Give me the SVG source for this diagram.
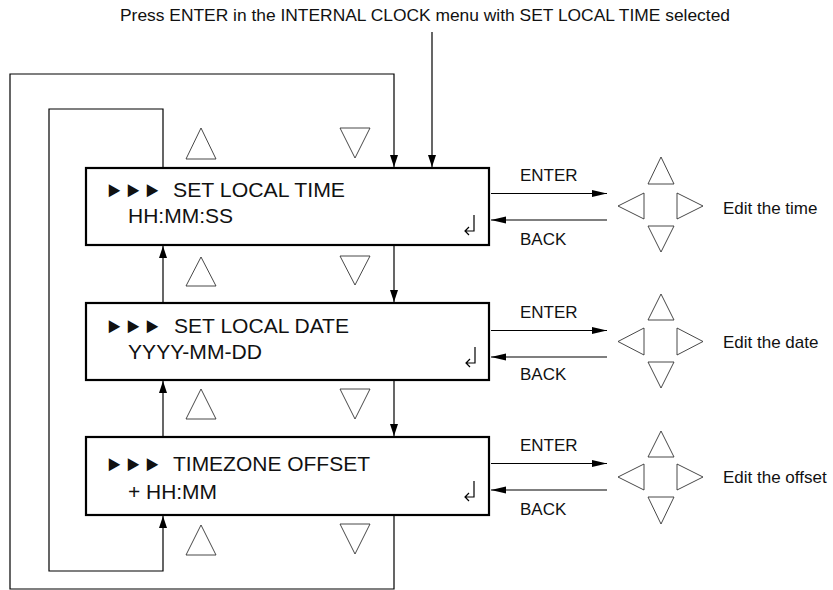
<svg xmlns="http://www.w3.org/2000/svg" width="833" height="590" viewBox="0 0 833 590">
<style>
text{font-family:"Liberation Sans","DejaVu Sans",Arial,sans-serif;fill:#111}
.lbl{font-size:17px}
.box{fill:#fff;stroke:#000;stroke-width:2.2}
.mt{font-size:20px}
.pt{font-size:22px}
.tri{fill:#fff;stroke:#333;stroke-width:0.9}
.ln{fill:none;stroke:#000;stroke-width:1.2}
.ret{fill:none;stroke:#000;stroke-width:1.2}
</style>
<defs>
<marker id="av" markerUnits="userSpaceOnUse" markerWidth="12" markerHeight="10" refX="12" refY="4" orient="auto">
<path d="M0,0 L12,4 L0,8 z" fill="#000"/>
</marker>
<marker id="ah" markerUnits="userSpaceOnUse" markerWidth="16" markerHeight="8" refX="15" refY="3.5" orient="auto">
<path d="M0,0 L15,3.5 L0,7 z" fill="#000"/>
</marker>
</defs>

<text id="title" class="lbl" x="120" y="21" textLength="610" lengthAdjust="spacingAndGlyphs">Press ENTER in the INTERNAL CLOCK menu with SET LOCAL TIME selected</text>

<g id="connectors">
<path class="ln" d="M432,32 V167" marker-end="url(#av)"/>
<path class="ln" d="M394,515 V589 H10 V74 H394 V167" marker-end="url(#av)"/>
<path class="ln" d="M163,168 V109 H49 V571 H163 V516" marker-end="url(#av)"/>
<path class="ln" d="M163,303 V246" marker-end="url(#av)"/>
<path class="ln" d="M394,245 V302" marker-end="url(#av)"/>
<path class="ln" d="M163,437 V381" marker-end="url(#av)"/>
<path class="ln" d="M394,380 V436" marker-end="url(#av)"/>
<path class="ln" d="M491,193.5 H607" marker-end="url(#ah)"/>
<path class="ln" d="M607,220 H491" marker-end="url(#ah)"/>
<path class="ln" d="M491,330.5 H607" marker-end="url(#ah)"/>
<path class="ln" d="M607,357 H491" marker-end="url(#ah)"/>
<path class="ln" d="M491,463.5 H607" marker-end="url(#ah)"/>
<path class="ln" d="M607,490 H491" marker-end="url(#ah)"/>
</g>

<g id="nav-triangles">
<polygon class="tri" points="201,128 216,159 186,159"/>
<polygon class="tri" points="340,128 370,128 355,158"/>
<polygon class="tri" points="201,257 216,286 186,286"/>
<polygon class="tri" points="340,256 370,256 355,285"/>
<polygon class="tri" points="201,389 216,419 186,419"/>
<polygon class="tri" points="340,389 370,389 355,419"/>
<polygon class="tri" points="201,525 216,555 186,555"/>
<polygon class="tri" points="340,524 370,524 355,554"/>
</g>

<g id="node-time">
<rect class="box" x="86" y="168" width="403" height="77"/>
<text class="pt" x="105" y="197" textLength="57" lengthAdjust="spacingAndGlyphs">►►►</text>
<text class="mt" x="173" y="197" textLength="172" lengthAdjust="spacingAndGlyphs">SET LOCAL TIME</text>
<text class="mt" x="128" y="223" textLength="105" lengthAdjust="spacingAndGlyphs">HH:MM:SS</text>
<path class="ret" d="M474,215 V231 H465 M469,227 L465,231 L469,235"/>
</g>

<g id="node-date">
<rect class="box" x="86" y="303" width="403" height="77"/>
<text class="pt" x="105" y="333" textLength="57" lengthAdjust="spacingAndGlyphs">►►►</text>
<text class="mt" x="174" y="333" textLength="175" lengthAdjust="spacingAndGlyphs">SET LOCAL DATE</text>
<text class="mt" x="128" y="359" textLength="134" lengthAdjust="spacingAndGlyphs">YYYY-MM-DD</text>
<path class="ret" d="M475,347 V363 H466 M470,359 L466,363 L470,367"/>
</g>

<g id="node-offset">
<rect class="box" x="86" y="437" width="403" height="78"/>
<text class="pt" x="105" y="471" textLength="57" lengthAdjust="spacingAndGlyphs">►►►</text>
<text class="mt" x="173" y="471" textLength="197" lengthAdjust="spacingAndGlyphs">TIMEZONE OFFSET</text>
<text class="mt" x="128" y="499" textLength="89" lengthAdjust="spacingAndGlyphs">+ HH:MM</text>
<path class="ret" d="M474,481 V497 H465 M469,493 L465,497 L469,501"/>
</g>

<g id="pad-time">
<text class="lbl" x="520" y="181">ENTER</text>
<text class="lbl" x="520" y="245">BACK</text>
<polygon class="tri" points="661,157 674,184 648,184"/>
<polygon class="tri" points="618,206 644,193 644,219"/>
<polygon class="tri" points="703,206 677,193 677,219"/>
<polygon class="tri" points="648,226 674,226 661,252"/>
<text class="lbl" x="723" y="214">Edit the time</text>
</g>

<g id="pad-date">
<text class="lbl" x="520" y="318">ENTER</text>
<text class="lbl" x="520" y="380">BACK</text>
<polygon class="tri" points="661,294 674,320 648,320"/>
<polygon class="tri" points="618,341.5 644,328 644,355"/>
<polygon class="tri" points="703,341.5 677,328 677,355"/>
<polygon class="tri" points="648,362 674,362 661,388"/>
<text class="lbl" x="723" y="348">Edit the date</text>
</g>

<g id="pad-offset">
<text class="lbl" x="520" y="451">ENTER</text>
<text class="lbl" x="520" y="515">BACK</text>
<polygon class="tri" points="661,431 674,457 648,457"/>
<polygon class="tri" points="618,477 644,464 644,490"/>
<polygon class="tri" points="703,477 677,464 677,490"/>
<polygon class="tri" points="648,497 674,497 661,524"/>
<text class="lbl" x="723" y="483">Edit the offset</text>
</g>
</svg>
